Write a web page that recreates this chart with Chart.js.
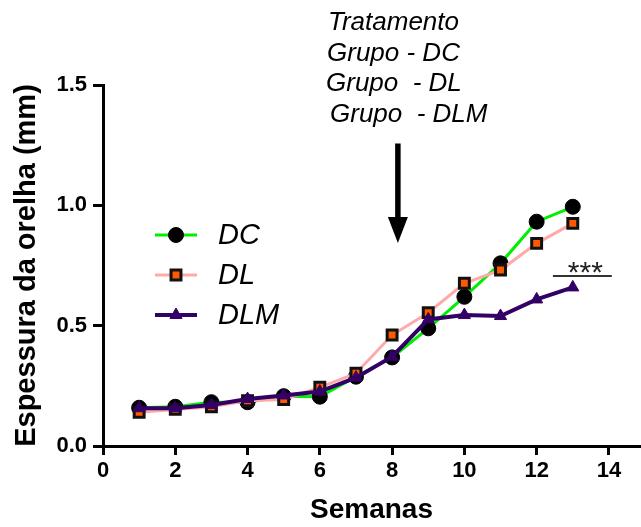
<!DOCTYPE html>
<html>
<head>
<meta charset="utf-8">
<script src="https://cdn.jsdelivr.net/npm/chart.js@4.4.0/dist/chart.umd.min.js"></script>
<style>
  html, body { margin: 0; padding: 0; background: #fff; }
  #wrap { width: 641px; height: 527px; position: relative; }
</style>
</head>
<body>
<div id="wrap"><canvas id="earChart" width="641" height="527"></canvas></div>
<script>
// data
const weeks = [1, 2, 3, 4, 5, 6, 7, 8, 9, 10, 11, 12, 13];
const dcValues = [0.159, 0.163, 0.182, 0.182, 0.207, 0.205, 0.288, 0.368, 0.489, 0.620, 0.759, 0.932, 0.994];
const dlValues = [0.140, 0.152, 0.163, 0.188, 0.193, 0.244, 0.302, 0.461, 0.554, 0.676, 0.731, 0.842, 0.925];
const dlmValues = [0.157, 0.157, 0.170, 0.195, 0.210, 0.226, 0.284, 0.371, 0.526, 0.544, 0.540, 0.609, 0.659];
const xTicks = [0, 2, 4, 6, 8, 10, 12, 14];
const yTicks = [0.0, 0.5, 1.0, 1.5];
const treatmentLines = ['Tratamento', 'Grupo - DC', 'Grupo  - DL', 'Grupo  - DLM'];

// annotation anchors in data units
const arrowAt = { x: 8.16, yTop: 1.257, yTip: 0.843 };
const sigBar = { x1: 12.45, x2: 14.08, y: 0.706, label: '***' };

const FONT = '"Liberation Sans", Arial, sans-serif';
const toPoints = vals => vals.map((v, i) => ({ x: weeks[i], y: v }));

const decorations = {
    id: 'decorations',
    afterDatasetsDraw(chart) {
        const ctx = chart.ctx;
        const xs = chart.scales.x, ys = chart.scales.y;
        ctx.save();

        // treatment text
        ctx.fillStyle = '#000';
        ctx.font = 'italic 26px ' + FONT;
        ctx.textBaseline = 'middle';
        const lx = [328, 327, 326, 330];
        const ly = [23, 54, 84, 115];
        treatmentLines.forEach((t, i) => ctx.fillText(t, lx[i], ly[i]));

        // arrow
        const ax = xs.getPixelForValue(arrowAt.x);
        const top = ys.getPixelForValue(arrowAt.yTop);
        const tip = ys.getPixelForValue(arrowAt.yTip);
        ctx.strokeStyle = '#000';
        ctx.lineWidth = 5.5;
        ctx.beginPath();
        ctx.moveTo(ax, top);
        ctx.lineTo(ax, tip - 20);
        ctx.stroke();
        ctx.beginPath();
        ctx.moveTo(ax - 10, tip - 26);
        ctx.lineTo(ax + 10, tip - 26);
        ctx.lineTo(ax, tip);
        ctx.closePath();
        ctx.fill();

        // significance bar
        const sx1 = xs.getPixelForValue(sigBar.x1);
        const sx2 = xs.getPixelForValue(sigBar.x2);
        const sy = ys.getPixelForValue(sigBar.y);
        ctx.lineWidth = 2;
        ctx.strokeStyle = '#333';
        ctx.beginPath();
        ctx.moveTo(sx1, sy);
        ctx.lineTo(sx2, sy);
        ctx.stroke();
        ctx.font = '30px ' + FONT;
        ctx.textAlign = 'center';
        ctx.textBaseline = 'alphabetic';
        ctx.fillStyle = '#222';
        ctx.fillText(sigBar.label, (sx1 + sx2) / 2 + 3, sy + 6);

        // legend
        const rows = [235, 275, 315];
        chart.data.datasets.forEach((ds, i) => {
            const y = rows[i];
            ctx.strokeStyle = ds.borderColor;
            ctx.lineWidth = ds.borderWidth;
            ctx.beginPath();
            ctx.moveTo(155, y);
            ctx.lineTo(197, y);
            ctx.stroke();
            ctx.fillStyle = ds.pointBackgroundColor;
            ctx.strokeStyle = ds.pointBorderColor;
            ctx.lineWidth = ds.pointBorderWidth;
            Chart.helpers.drawPoint(ctx, {
                pointStyle: ds.pointStyle,
                radius: ds.pointRadius,
                borderWidth: ds.pointBorderWidth
            }, 176, y);
            ctx.fillStyle = '#000';
            ctx.font = 'italic 29px ' + FONT;
            ctx.textAlign = 'left';
            ctx.textBaseline = 'middle';
            ctx.fillText(ds.label, 218, y + 1);
        });

        ctx.restore();
    }
};

new Chart(document.getElementById('earChart'), {
    type: 'line',
    data: {
        datasets: [{
            label: 'DC',
            data: toPoints(dcValues),
            borderColor: '#00ee00',
            borderWidth: 3,
            pointStyle: 'circle',
            pointRadius: 7.5,
            pointBackgroundColor: '#000',
            pointBorderColor: '#000',
            pointBorderWidth: 1,
            order: 3
        }, {
            label: 'DL',
            data: toPoints(dlValues),
            borderColor: '#ffaaaa',
            borderWidth: 3,
            pointStyle: 'rect',
            pointRadius: 7,
            pointBackgroundColor: '#ff5a00',
            pointBorderColor: '#111',
            pointBorderWidth: 3,
            order: 2
        }, {
            label: 'DLM',
            data: toPoints(dlmValues),
            borderColor: '#330066',
            borderWidth: 4,
            pointStyle: 'triangle',
            pointRadius: 7,
            pointBackgroundColor: '#330066',
            pointBorderColor: '#330066',
            pointBorderWidth: 1,
            order: 1
        }]
    },
    options: {
        responsive: false,
        animation: false,
        layout: { autoPadding: false, padding: { top: 85, right: 1, left: 0, bottom: 0 } },
        plugins: {
            legend: { display: false },
            tooltip: { enabled: false }
        },
        scales: {
            x: {
                type: 'linear',
                min: 0,
                max: 14.86,
                afterBuildTicks: s => { s.ticks = xTicks.map(v => ({ value: v })); },
                afterFit: s => { s.height = 81; },
                grid: { drawOnChartArea: false, drawTicks: true, tickLength: 9, color: '#000', lineWidth: 3 },
                border: { display: true, color: '#000', width: 3 },
                ticks: {
                    color: '#000',
                    padding: 3,
                    maxRotation: 0,
                    font: { family: FONT, size: 22, weight: 'bold' }
                },
                title: {
                    display: true,
                    text: 'Semanas',
                    color: '#000',
                    padding: { top: 7, bottom: 0 },
                    font: { family: FONT, size: 28, weight: 'bold' }
                }
            },
            y: {
                min: 0,
                max: 1.5,
                afterBuildTicks: s => { s.ticks = yTicks.map(v => ({ value: v })); },
                afterFit: s => { s.width = 103; },
                grid: { drawOnChartArea: false, drawTicks: true, tickLength: 10, color: '#000', lineWidth: 3 },
                border: { display: true, color: '#000', width: 3 },
                ticks: {
                    color: '#000',
                    padding: 6,
                    callback: v => v.toFixed(1),
                    font: { family: FONT, size: 22, weight: 'bold' }
                },
                title: {
                    display: true,
                    text: 'Espessura da orelha (mm)',
                    color: '#000',
                    padding: { top: 10, bottom: 0 },
                    font: { family: FONT, size: 29, weight: 'bold' }
                }
            }
        }
    },
    plugins: [decorations]
});
</script>
</body>
</html>
